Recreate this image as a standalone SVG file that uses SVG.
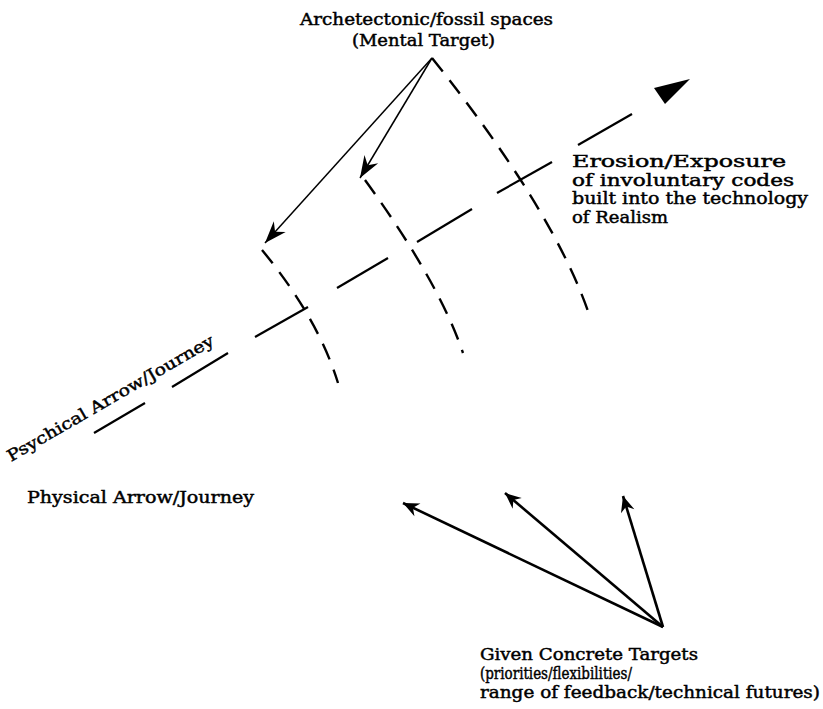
<svg xmlns="http://www.w3.org/2000/svg" width="823" height="709" viewBox="0 0 823 709">
<style>
text { font-family: "DejaVu Serif", "Liberation Serif", serif; font-size: 16px; fill: #000; stroke: #000; stroke-width: 0.45; }
.thin { stroke: #000; stroke-width: 1.5; fill: none; }
.thick { stroke: #000; stroke-width: 2.6; fill: none; }
.dash { stroke: #000; stroke-width: 2.4; fill: none; stroke-dasharray: 17 11; }
.seg { stroke: #000; stroke-width: 2.2; fill: none; }
</style>
<defs>
<marker id="headBig" markerUnits="userSpaceOnUse" viewBox="-24 -10 26 20" refX="0" refY="0" markerWidth="26" markerHeight="20" orient="auto">
<path d="M0,0 L-22,-8 L-15,0 L-22,8 Z" fill="#000"/>
</marker>
<marker id="headSmall" markerUnits="userSpaceOnUse" viewBox="-18 -8 20 16" refX="0" refY="0" markerWidth="20" markerHeight="16" orient="auto">
<path d="M0,0 L-16,-7 L-11,0 L-16,7 Z" fill="#000"/>
</marker>
</defs>

<g id="connectors">
<line class="thin" x1="432" y1="58" x2="265" y2="243" marker-end="url(#headBig)"/>
<line class="thin" x1="432" y1="58" x2="360" y2="178" marker-end="url(#headBig)"/>
<path class="dash" d="M432,58 Q555,212 590,317"/>
<path class="dash" d="M365,180 Q439,282 463,353"/>
<path class="dash" d="M262,250 Q318,318 338,383"/>
<g id="psychical-line">
<line class="seg" x1="94" y1="433" x2="145" y2="403"/>
<line class="seg" x1="172" y1="387" x2="228" y2="353"/>
<line class="seg" x1="255" y1="337" x2="308" y2="307"/>
<line class="seg" x1="337" y1="288" x2="388" y2="258"/>
<line class="seg" x1="417" y1="242" x2="472" y2="209"/>
<line class="seg" x1="497" y1="193" x2="552" y2="162"/>
<line class="seg" x1="578" y1="145" x2="632" y2="114"/>
<polygon points="690,79 654,88 665,104" fill="#000"/>
</g>
<line class="thick" x1="663" y1="627" x2="403" y2="503" marker-end="url(#headSmall)"/>
<line class="thick" x1="663" y1="627" x2="505" y2="493" marker-end="url(#headSmall)"/>
<line class="thick" x1="663" y1="627" x2="623" y2="496" marker-end="url(#headSmall)"/>
</g>

<g id="mental-target">
<text x="300" y="25" textLength="253" lengthAdjust="spacingAndGlyphs">Archetectonic/fossil spaces</text>
<text x="352" y="46" textLength="143" lengthAdjust="spacingAndGlyphs">(Mental Target)</text>
</g>

<g id="erosion">
<text x="572" y="167" textLength="214" lengthAdjust="spacingAndGlyphs">Erosion/Exposure</text>
<text x="572" y="185.5" textLength="222" lengthAdjust="spacingAndGlyphs">of involuntary codes</text>
<text x="572" y="204" textLength="236" lengthAdjust="spacingAndGlyphs">built into the technology</text>
<text x="572" y="222.5" textLength="96" lengthAdjust="spacingAndGlyphs">of Realism</text>
</g>

<g id="psychical">
<text transform="translate(11,462) rotate(-30)" textLength="236" lengthAdjust="spacingAndGlyphs">Psychical Arrow/Journey</text>
</g>

<g id="physical">
<text x="27" y="503" textLength="227" lengthAdjust="spacingAndGlyphs">Physical Arrow/Journey</text>
</g>

<g id="concrete-targets">
<text x="480" y="660" textLength="218" lengthAdjust="spacingAndGlyphs">Given Concrete Targets</text>
<text x="480" y="679" textLength="152" lengthAdjust="spacingAndGlyphs">(priorities/flexibilities/</text>
<text x="480" y="698" textLength="340" lengthAdjust="spacingAndGlyphs">range of feedback/technical futures)</text>
</g>
</svg>
